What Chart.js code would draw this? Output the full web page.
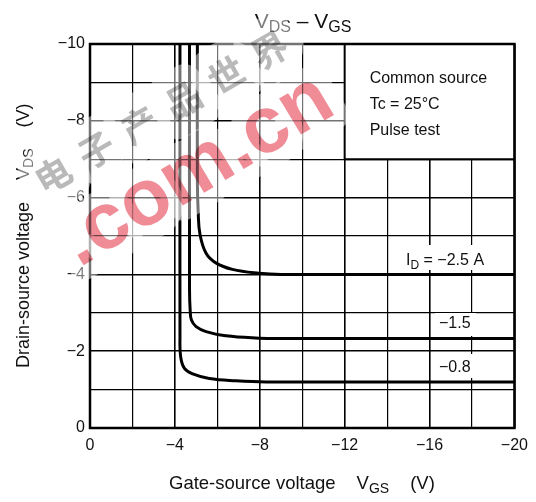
<!DOCTYPE html>
<html>
<head>
<meta charset="utf-8">
<script src="https://cdn.jsdelivr.net/npm/chart.js@4.4.0/dist/chart.umd.min.js"></script>
<style>
  html, body { margin: 0; padding: 0; background: #fff; }
  #wrap { width: 536px; height: 502px; }
</style>
</head>
<body>
<div id="wrap"><canvas id="vdsChart" width="536" height="502"></canvas></div>
<script>
// V_DS - V_GS curves (volts)
const idLabels = ['-2.5', '-1.5', '-0.8'];

const vgs25 = [-5.06, -5.06, -5.1, -5.18, -5.47, -5.93, -6.71, -7.96, -9, -20];
const vds25 = [-10, -6.4, -5.6, -5.05, -4.55, -4.3, -4.13, -4.03, -4.0, -4.0];

const vgs15 = [-4.69, -4.69, -4.72, -4.78, -5.0, -5.47, -6.4, -7.96, -9, -20];
const vds15 = [-10, -3.6, -3.07, -2.81, -2.64, -2.51, -2.4, -2.34, -2.33, -2.33];

const vgs08 = [-4.24, -4.24, -4.27, -4.45, -4.84, -5.62, -6.87, -8.3, -20];
const vds08 = [-10, -2.4, -1.86, -1.55, -1.41, -1.29, -1.23, -1.2, -1.2];

const xTicks = [0, -4, -8, -12, -16, -20];
const yTicks = [0, -2, -4, -6, -8, -10];
const noteLines = ['Common source', 'Tc = 25\u00b0C', 'Pulse test'];

const FONT = '"Liberation Sans", Arial, sans-serif';
const INK = '#111';

function minus(v) {
  return v === 0 ? '0' : '\u2212' + Math.abs(v);
}

function toPoints(xs, ys) {
  return xs.map((x, i) => ({ x: x, y: ys[i] }));
}

// draws text pieces one after another (for subscripts)
function drawParts(ctx, parts, x, y, align) {
  let w = 0;
  parts.forEach(p => {
    ctx.font = p.s + 'px ' + FONT;
    w += ctx.measureText(p.t).width + (p.gap || 0);
  });
  let cx = align === 'center' ? x - w / 2 : x;
  ctx.textAlign = 'left';
  ctx.textBaseline = 'alphabetic';
  parts.forEach(p => {
    ctx.font = p.s + 'px ' + FONT;
    ctx.fillText(p.t, cx, y + (p.dy || 0));
    cx += ctx.measureText(p.t).width + (p.gap || 0);
  });
}

const decorPlugin = {
  id: 'decor',
  afterDatasetsDraw(chart) {
    const ctx = chart.ctx;
    const xs = chart.scales.x, ys = chart.scales.y;
    const area = chart.chartArea;
    ctx.save();

    // note box in the upper right corner
    const bx = xs.getPixelForValue(-12), by = ys.getPixelForValue(-7);
    ctx.fillStyle = '#fff';
    ctx.fillRect(bx, area.top, area.right - bx, by - area.top);
    ctx.strokeStyle = '#000';
    ctx.lineWidth = 2;
    ctx.beginPath();
    ctx.moveTo(bx, area.top);
    ctx.lineTo(bx, by);
    ctx.lineTo(area.right, by);
    ctx.stroke();

    ctx.fillStyle = INK;
    ctx.font = '16px ' + FONT;
    ctx.textAlign = 'left';
    ctx.textBaseline = 'alphabetic';
    noteLines.forEach((t, i) => ctx.fillText(t, bx + 25, area.top + 39 + i * 26));

    // curve labels on white patches
    ctx.fillStyle = '#fff';
    ctx.fillRect(400, 245, 90, 25);
    ctx.fillRect(435, 313, 41, 23);
    ctx.fillRect(435, 354, 41, 24);
    ctx.fillStyle = INK;
    drawParts(ctx, [
      { t: 'I', s: 16 },
      { t: 'D', s: 12, dy: 4 },
      { t: ' = ' + minus(parseFloat(idLabels[0])) + ' A', s: 16 }
    ], 406, 265, 'left');
    ctx.font = '16px ' + FONT;
    ctx.fillText(minus(parseFloat(idLabels[1])), 439, 328);
    ctx.fillText(minus(parseFloat(idLabels[2])), 439, 372);

    // plot frame
    ctx.strokeStyle = '#000';
    ctx.lineWidth = 2.5;
    ctx.strokeRect(area.left, area.top, area.right - area.left, area.bottom - area.top);
    ctx.restore();
  },
  afterDraw(chart) {
    const ctx = chart.ctx;
    ctx.save();
    ctx.fillStyle = INK;
    // title
    drawParts(ctx, [
      { t: 'V', s: 21 },
      { t: 'DS', s: 16, dy: 4 },
      { t: ' \u2013 ', s: 21 },
      { t: 'V', s: 21 },
      { t: 'GS', s: 16, dy: 4 }
    ], 303, 28, 'center');
    // x axis title
    drawParts(ctx, [
      { t: 'Gate-source voltage', s: 18.5, gap: 21 },
      { t: 'V', s: 18.5 },
      { t: 'GS', s: 14, dy: 4, gap: 21 },
      { t: '(V)', s: 18.5 }
    ], 169, 489, 'left');
    // y axis title
    ctx.translate(29, 368);
    ctx.rotate(-Math.PI / 2);
    drawParts(ctx, [
      { t: 'Drain-source voltage', s: 18, gap: 22 },
      { t: 'V', s: 18 },
      { t: 'DS', s: 14, dy: 4, gap: 21 },
      { t: '(V)', s: 18 }
    ], 0, 0, 'left');
    ctx.restore();

    // site watermark
    ctx.save();
    const ang = -30 * Math.PI / 180;
    const redAng = -31 * Math.PI / 180;
    const cjk = ['\u7535', '\u5b50', '\u4ea7', '\u54c1', '\u4e16', '\u754c'];
    const red = '.com.cn';
    ctx.textAlign = 'center';
    ctx.textBaseline = 'middle';
    ctx.lineJoin = 'round';
    // faint white halo
    ctx.strokeStyle = 'rgba(255,255,255,0.45)';
    cjk.forEach((c, i) => {
      ctx.save();
      ctx.translate(53 + i * 43.3, 175 - i * 25);
      ctx.rotate(ang);
      ctx.font = 'bold 36px "Noto Sans CJK SC"';
      ctx.lineWidth = 34;
      ctx.strokeText(c, 0, 0);
      ctx.restore();
    });
    ctx.save();
    ctx.translate(79, 268);
    ctx.rotate(redAng);
    ctx.textAlign = 'left';
    ctx.textBaseline = 'alphabetic';
    ctx.font = 'bold 80px ' + FONT;
    ctx.lineWidth = 30;
    ctx.strokeText(red, 0, 0);
    ctx.restore();

    ctx.globalCompositeOperation = 'multiply';
    ctx.fillStyle = 'rgb(185,185,185)';
    cjk.forEach((c, i) => {
      ctx.save();
      ctx.translate(53 + i * 43.3, 175 - i * 25);
      ctx.rotate(ang);
      ctx.font = 'bold 36px "Noto Sans CJK SC"';
      ctx.fillText(c, 0, 0);
      ctx.restore();
    });
    ctx.translate(79, 268);
    ctx.rotate(redAng);
    ctx.textAlign = 'left';
    ctx.textBaseline = 'alphabetic';
    ctx.font = 'bold 80px ' + FONT;
    ctx.fillStyle = 'rgb(240,140,150)';
    ctx.fillText(red, 0, 0);
    ctx.restore();
  }
};

const lineStyle = {
  borderColor: '#000',
  borderWidth: 3,
  pointRadius: 0,
  showLine: true,
  fill: false,
  tension: 0.4
};

const ctx = document.getElementById('vdsChart').getContext('2d');
new Chart(ctx, {
  type: 'scatter',
  data: {
    datasets: [
      Object.assign({ label: 'ID = ' + idLabels[0] + ' A', data: toPoints(vgs25, vds25) }, lineStyle),
      Object.assign({ label: 'ID = ' + idLabels[1] + ' A', data: toPoints(vgs15, vds15) }, lineStyle),
      Object.assign({ label: 'ID = ' + idLabels[2] + ' A', data: toPoints(vgs08, vds08) }, lineStyle)
    ]
  },
  options: {
    responsive: false,
    animation: false,
    layout: { padding: { top: 44, right: 19, bottom: 0, left: 0 } },
    plugins: {
      legend: { display: false },
      tooltip: { enabled: false }
    },
    scales: {
      x: {
        type: 'linear',
        min: -20,
        max: 0,
        reverse: true,
        afterFit: s => { s.height = 74; },
        border: { display: false },
        grid: {
          color: '#000',
          drawTicks: false,
          lineWidth: c => (c.tick && c.tick.value % 4 === 0 ? 1.6 : 1.2)
        },
        ticks: {
          stepSize: 2,
          autoSkip: false,
          maxRotation: 0,
          padding: 8,
          color: INK,
          font: { family: FONT, size: 16 },
          callback: v => (xTicks.includes(v) ? minus(v) : '')
        }
      },
      y: {
        type: 'linear',
        min: -10,
        max: 0,
        reverse: true,
        afterFit: s => { s.width = 90; },
        border: { display: false },
        grid: {
          color: '#000',
          drawTicks: false,
          lineWidth: c => (c.tick && c.tick.value % 2 === 0 ? 1.6 : 1.2)
        },
        ticks: {
          stepSize: 1,
          autoSkip: false,
          padding: 5,
          color: INK,
          font: { family: FONT, size: 16 },
          callback: v => (yTicks.includes(v) ? minus(v) : '')
        }
      }
    }
  },
  plugins: [decorPlugin]
});
</script>
</body>
</html>
